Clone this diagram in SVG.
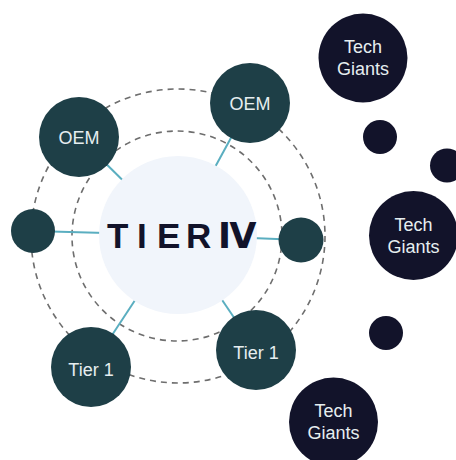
<svg xmlns="http://www.w3.org/2000/svg" width="456" height="460" viewBox="0 0 456 460">
<style>
.ring{fill:none;stroke:#6e6e6e;stroke-width:1.6;stroke-dasharray:6 5}
.link{stroke:#5aaec0;stroke-width:2}
.partner{fill:#1e3f47}
.giant{fill:#12132a}
.lbl{font-family:"Liberation Sans","Noto Sans",sans-serif;font-size:18px;fill:#e6eef0;text-anchor:middle}
.logo{font-family:"Liberation Sans","DejaVu Sans","Noto Sans CJK JP",sans-serif;font-size:35px;font-weight:bold;fill:#12132a}
</style>
<rect width="456" height="460" fill="#ffffff"/>
<g id="rings">
<circle class="ring" cx="178" cy="236" r="147"/>
<circle class="ring" cx="177" cy="236" r="105"/>
</g>
<g id="connectors">
<line class="link" x1="79" y1="137" x2="178" y2="235"/>
<line class="link" x1="250" y1="103" x2="178" y2="235"/>
<line class="link" x1="33" y1="231" x2="178" y2="235"/>
<line class="link" x1="301" y1="240" x2="178" y2="235"/>
<line class="link" x1="91" y1="367" x2="178" y2="235"/>
<line class="link" x1="256" y1="350" x2="178" y2="235"/>
</g>
<g id="hub">
<circle cx="178" cy="235" r="79" fill="#f1f5fb"/>
<text class="logo" x="107 137 157 186 218" y="248">TIERⅣ</text>
</g>
<g id="oem-left">
<circle class="partner" cx="79" cy="137" r="40"/>
<text class="lbl" x="79" y="144">OEM</text>
</g>
<g id="oem-right">
<circle class="partner" cx="250" cy="103" r="40"/>
<text class="lbl" x="250" y="110">OEM</text>
</g>
<g id="node-left">
<circle class="partner" cx="33" cy="231" r="22"/>
</g>
<g id="node-right">
<circle class="partner" cx="301" cy="240" r="22.5"/>
</g>
<g id="tier1-left">
<circle class="partner" cx="91" cy="367" r="40"/>
<text class="lbl" x="91" y="376">Tier 1</text>
</g>
<g id="tier1-right">
<circle class="partner" cx="256" cy="350" r="40"/>
<text class="lbl" x="256" y="359">Tier 1</text>
</g>
<g id="giant-top">
<circle class="giant" cx="363" cy="58" r="44.5"/>
<text class="lbl" x="363" y="53">Tech</text>
<text class="lbl" x="363" y="75">Giants</text>
</g>
<g id="giant-middle">
<circle class="giant" cx="413.5" cy="235.5" r="44.5"/>
<text class="lbl" x="413.5" y="230.5">Tech</text>
<text class="lbl" x="413.5" y="252.5">Giants</text>
</g>
<g id="giant-bottom">
<circle class="giant" cx="333.5" cy="422" r="44.5"/>
<text class="lbl" x="333.5" y="417">Tech</text>
<text class="lbl" x="333.5" y="439">Giants</text>
</g>
<g id="dot-1"><circle class="giant" cx="380" cy="137" r="17"/></g>
<g id="dot-2"><circle class="giant" cx="447" cy="165.5" r="17"/></g>
<g id="dot-3"><circle class="giant" cx="386" cy="333" r="17"/></g>
</svg>
